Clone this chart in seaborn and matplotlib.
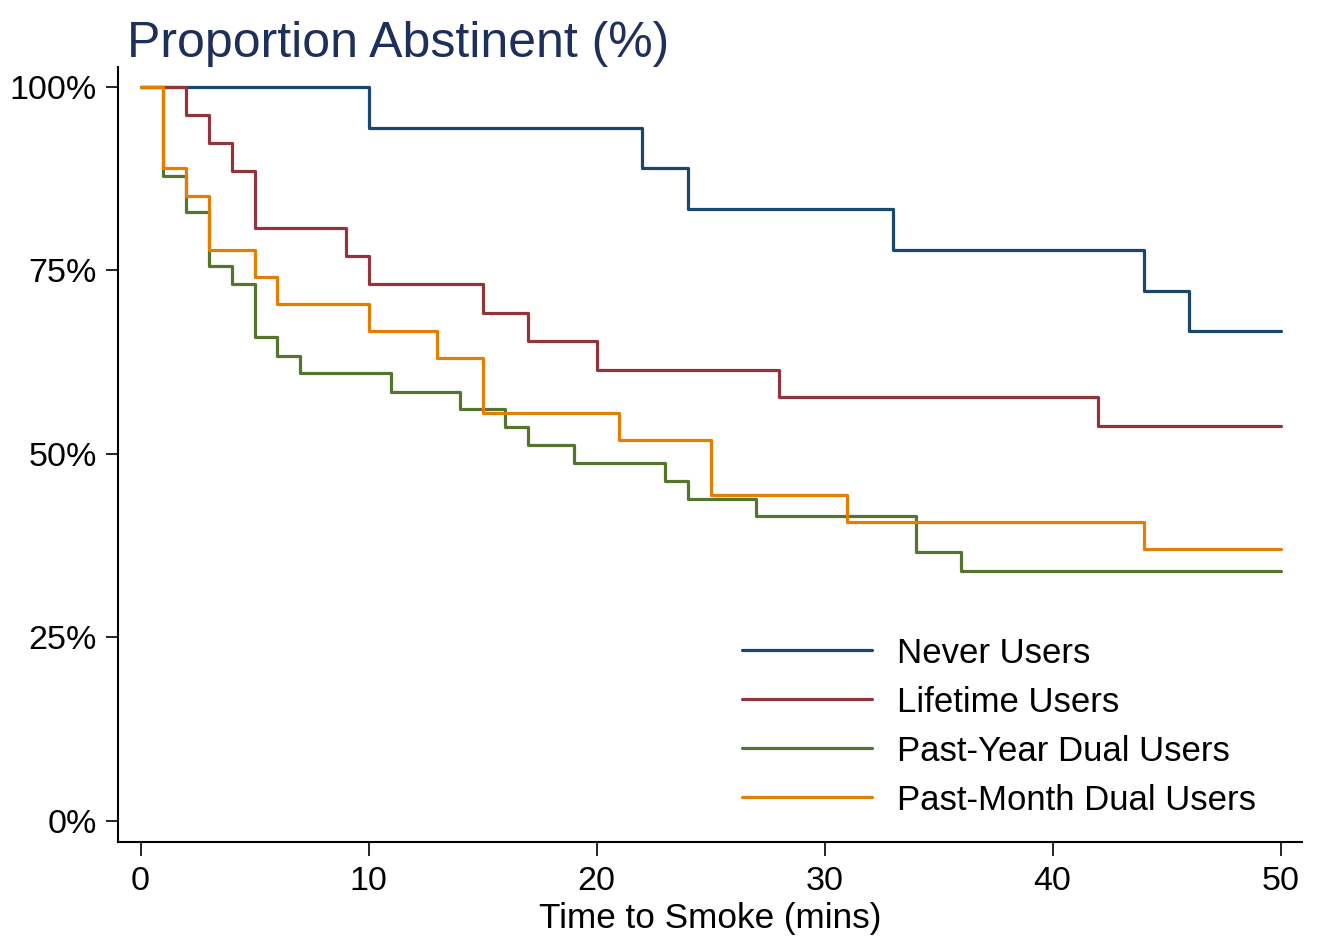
import pandas as pd
import matplotlib
matplotlib.use('Agg')
import matplotlib.pyplot as plt
import seaborn as sns

# Kaplan-Meier style step data (time in mins, % abstinent)
groups = ['Never Users', 'Lifetime Users', 'Past-Year Dual Users', 'Past-Month Dual Users']

never_t = [0, 10, 22, 24, 33, 44, 46, 50]
never_s = [100, 94.4, 88.9, 83.3, 77.8, 72.2, 66.7, 66.7]

lifetime_t = [0, 2, 3, 4, 5, 9, 10, 15, 17, 20, 28, 42, 50]
lifetime_s = [100, 96.2, 92.3, 88.5, 80.8, 76.9, 73.1, 69.2, 65.4, 61.5, 57.7, 53.8, 53.8]

pastyear_t = [0, 1, 2, 3, 4, 5, 6, 7, 11, 14, 16, 17, 19, 23, 24, 27, 34, 36, 50]
pastyear_s = [100, 87.8, 82.9, 75.6, 73.2, 65.9, 63.4, 61.0, 58.5, 56.1, 53.7, 51.2,
              48.8, 46.3, 43.9, 41.5, 36.6, 34.1, 34.1]

pastmonth_t = [0, 1, 2, 3, 5, 6, 10, 13, 15, 21, 25, 31, 44, 50]
pastmonth_s = [100, 88.9, 85.2, 77.8, 74.1, 70.4, 66.7, 63.0, 55.6, 51.9, 44.4, 40.7, 37.0, 37.0]

colors = ['#1a476f', '#90353b', '#55752f', '#e37e00']

frames = []
for g, t, s in zip(groups,
                   [never_t, lifetime_t, pastyear_t, pastmonth_t],
                   [never_s, lifetime_s, pastyear_s, pastmonth_s]):
    frames.append(pd.DataFrame({'time': t, 'surv': s, 'group': g}))
df = pd.concat(frames, ignore_index=True)

sns.set_style('ticks')
plt.rcParams['font.family'] = ['Liberation Sans', 'DejaVu Sans']
plt.rcParams['text.color'] = 'black'
plt.rcParams['axes.labelcolor'] = 'black'
plt.rcParams['xtick.color'] = 'black'
plt.rcParams['ytick.color'] = 'black'

fig = plt.figure(figsize=(13.21, 9.39), dpi=100)
ax = fig.add_axes([0.0893, 0.1033, 0.8963, 0.8253])

sns.lineplot(data=df, x='time', y='surv', hue='group', hue_order=groups,
             palette=colors, estimator=None, drawstyle='steps-post',
             linewidth=2.3, ax=ax)

ax.set_xlim(-0.99, 50.94)
ax.set_ylim(-2.86, 102.7)
ax.set_xticks([0, 10, 20, 30, 40, 50])
ax.set_yticks([0, 25, 50, 75, 100])
ax.set_yticklabels(['0%', '25%', '50%', '75%', '100%'])
ax.tick_params(axis='both', labelsize=24.5, width=1.2, color='black', labelcolor='black')
ax.tick_params(axis='x', length=10, pad=7)
ax.tick_params(axis='y', length=8.6, pad=6.5)
for side in ['top', 'right']:
    ax.spines[side].set_visible(False)
for side in ['left', 'bottom']:
    ax.spines[side].set_linewidth(1.5)
    ax.spines[side].set_color('black')

ax.set_xlabel('Time to Smoke (mins)', fontsize=25.3, labelpad=4)
ax.set_ylabel('')

fig.text(0.096, 1 - 57 / 939, 'Proportion Abstinent (%)', fontsize=36, color='#1f2f5c',
         ha='left', va='baseline')

leg = ax.legend(loc='upper left', bbox_to_anchor=(0.5617, 0.322), bbox_transform=fig.transFigure,
                frameon=False, fontsize=25, handlelength=3.75, handletextpad=0.72,
                labelspacing=0.46, borderpad=0, borderaxespad=0)
for line in leg.get_lines():
    line.set_linewidth(2.3)

fig.savefig('out.png', dpi=100)
